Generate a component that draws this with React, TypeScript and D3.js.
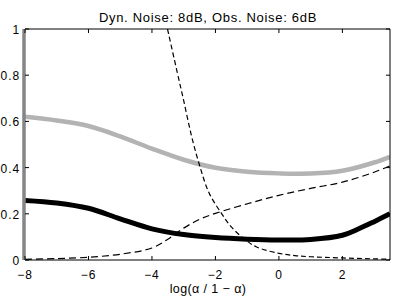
import React from "react";
import * as d3 from "d3";

const title = "Dyn. Noise: 8dB, Obs. Noise: 6dB";
const xLabel = "log(α / 1 − α)";
const xTicks = [-8, -6, -4, -2, 0, 2];
const yTicks = [0, 0.2, 0.4, 0.6, 0.8, 1];

// gray thick curve
const grayX = [-8, -7, -6, -5, -4, -3, -2, -1, 0, 1, 2, 3, 3.5];
const grayY = [0.62, 0.604, 0.58, 0.535, 0.482, 0.434, 0.399, 0.382, 0.375, 0.374, 0.386, 0.422, 0.447];

// black thick curve
const blackX = [-8, -7, -6, -5, -4, -3, -2, -1, 0, 1, 2, 2.5, 3, 3.5];
const blackY = [0.258, 0.247, 0.224, 0.178, 0.135, 0.11, 0.097, 0.09, 0.087, 0.089, 0.107, 0.134, 0.166, 0.2];

// rising dashed curve
const riseX = [-8, -7, -6, -5, -4, -3.5, -3, -2.5, -2, -1, 0, 1, 2, 3, 3.5];
const riseY = [0.003, 0.006, 0.012, 0.025, 0.052, 0.09, 0.138, 0.176, 0.202, 0.243, 0.28, 0.31, 0.337, 0.38, 0.408];

// falling dashed curve
const fallX = [-3.51, -3.2, -3, -2.75, -2.5, -2.2, -1.8, -1.5, -1.1, -0.7, 0, 0.5, 1, 2, 3.5];
const fallY = [1.0, 0.81, 0.69, 0.535, 0.41, 0.29, 0.2, 0.143, 0.092, 0.056, 0.029, 0.019, 0.014, 0.009, 0.003];

const W = 396;
const H = 299;
const left = 25;
const right = 390;
const top = 29;
const bottom = 260;

const x = d3.scaleLinear().domain([-8, 3.5]).range([left, right]);
const y = d3.scaleLinear().domain([0, 1]).range([bottom, top]);

const line = d3
  .line<[number, number]>()
  .x((d) => x(d[0]))
  .y((d) => y(d[1]))
  .curve(d3.curveCatmullRom.alpha(0.5));

const zip = (a: number[], b: number[]) => a.map((v, i) => [v, b[i]] as [number, number]);

const font = "'Liberation Sans', Arial, Helvetica, sans-serif";

export default function App() {
  const tl = 4;
  return (
    <svg width={W} height={H} style={{ position: "absolute", left: 0, top: 0 }}>
      <rect x={0} y={0} width={W} height={H} fill="#fff" />
      <defs>
        <clipPath id="plot">
          <rect x={left} y={top} width={right - left} height={bottom - top} />
        </clipPath>
      </defs>
      <g clipPath="url(#plot)" fill="none">
        <path d={line(zip(grayX, grayY)) || ""} stroke="#b3b3b3" strokeWidth={4.5} />
        <path d={line(zip(blackX, blackY)) || ""} stroke="#000" strokeWidth={5} />
        <path d={line(zip(riseX, riseY)) || ""} stroke="#000" strokeWidth={1.2} strokeDasharray="7,4" />
        <path d={line(zip(fallX, fallY)) || ""} stroke="#000" strokeWidth={1.2} strokeDasharray="5,3" />
      </g>
      {/* frame */}
      <line x1={left} x2={right} y1={top} y2={top} stroke="#000" strokeWidth={1} />
      <line x1={right} x2={right} y1={top} y2={bottom} stroke="#000" strokeWidth={1} />
      <line x1={left} x2={right} y1={bottom} y2={bottom} stroke="#000" strokeWidth={1} />
      <line x1={24} x2={24} y1={top} y2={bottom} stroke="#858585" strokeWidth={3.5} />
      {xTicks.map((t) => (
        <g key={"x" + t}>
          <line x1={x(t)} x2={x(t)} y1={bottom} y2={bottom - tl} stroke="#000" />
          <line x1={x(t)} x2={x(t)} y1={top} y2={top + tl} stroke="#000" />
          <text x={x(t)} y={279} textAnchor="middle" fontFamily={font} fontSize={12} letterSpacing={0.8}>
            {t < 0 ? "\u2212" + Math.abs(t) : t}
          </text>
        </g>
      ))}
      {yTicks.map((t) => (
        <g key={"y" + t}>
          <line x1={left} x2={left + tl} y1={y(t)} y2={y(t)} stroke="#000" />
          <line x1={right} x2={right - tl} y1={y(t)} y2={y(t)} stroke="#000" />
          <text x={20} y={y(t) + 5} textAnchor="end" fontFamily={font} fontSize={12} letterSpacing={0.9}>
            {t}
          </text>
        </g>
      ))}
      <text x={208} y={21.5} textAnchor="middle" fontFamily={font} fontSize={13} letterSpacing={0.7}>
        {title}
      </text>
      <text x={208} y={293} textAnchor="middle" fontFamily={font} fontSize={12.5} letterSpacing={0.4}>
        {xLabel}
      </text>
    </svg>
  );
}
